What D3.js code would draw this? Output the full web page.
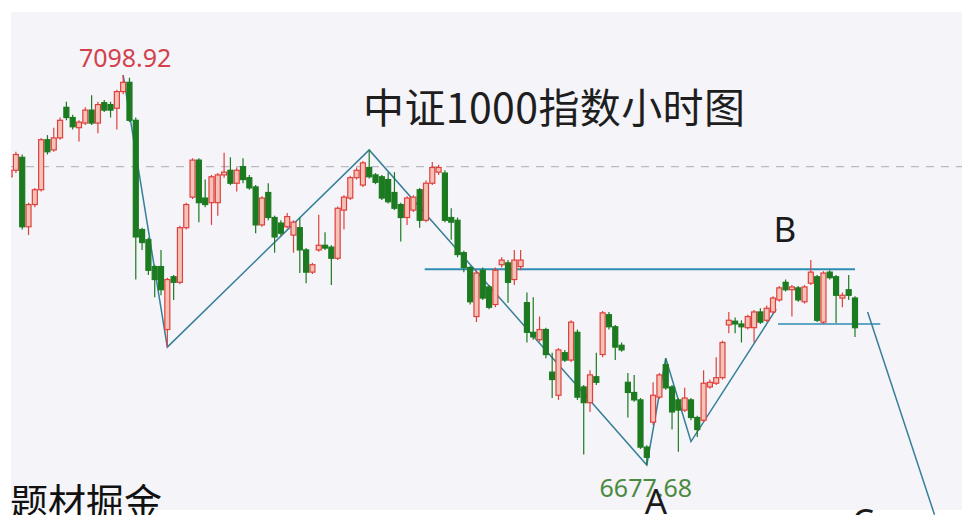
<!DOCTYPE html>
<html>
<head>
<meta charset="utf-8">
<script src="https://cdn.jsdelivr.net/npm/d3@7"></script>
<style>
  body { margin: 0; background: #fff; }
  svg { display: block; }
</style>
</head>
<body>
<svg width="962" height="515"></svg>
<script>
// hourly bars of the CSI 1000 index
const open  = [6989,6996,7010,6935,6959,6975,7029,7018,7031,7064,7053,7042,7047,7061,7047,7069,7067,7063,7081,7091,
               7050,6932,6921,6892,6892,6824,6881,6875,6934,6967,7007,6966,6961,6961,6991,6996,6982,7000,6988,6978,
               6937,6972,6945,6939,6935,6926,6934,6910,6886,6910,6915,6913,6901,6953,6966,6988,6980,6999,6991,6989,
               6986,6972,6959,6945,6953,6975,6942,6982,6994,6993,6945,6942,6907,6891,6838,6888,6870,6851,6894,6896,
               6878,6892,6853,6821,6813,6824,6778,6753,6799,6791,6821,6762,6745,6773,6797,6840,6827,6807,6767,6756,
               6748,6697,6724,6751,6786,6762,6748,6737,6748,6729,6726,6762,6766,6772,6829,6833,6830,6826,6826,6843,
               6834,6843,6856,6875,6867,6869,6854,6874,6881,6832,6886,6881,6858,6867,6858];
const high  = [7002,7016,7013,6961,6977,7031,7034,7042,7053,7070,7056,7050,7064,7077,7070,7072,7070,7083,7098.92,7096,
               7053,6934,6923,6894,6910,6880,6883,6936,6961,7009,7009,6986,6991,6993,7015,7010,6999,7009,6991,6980,
               6968,6982,6947,6942,6950,6942,6945,6912,6896,6948,6929,6915,6957,6969,6990,6999,7006,7018,6993,6991,
               6994,6994,6961,6968,6969,6977,6985,7005,7002,6996,6955,6945,6909,6893,6888,6891,6872,6891,6902,6899,
               6910,6910,6864,6859,6838,6826,6799,6804,6802,6834,6824,6764,6780,6799,6844,6843,6829,6810,6777,6775,
               6750,6699,6767,6777,6793,6764,6750,6761,6750,6731,6780,6770,6794,6812,6843,6837,6834,6840,6845,6847,
               6850,6860,6871,6878,6872,6871,6872,6899,6883,6887,6888,6883,6864,6883,6860];
const low   = [6986,6993,6932,6926,6956,6973,7013,7016,7029,7050,7040,7027,7045,7045,7036,7059,7053,7040,7078,7048,
               6878,6910,6883,6859,6861,6805,6856,6873,6932,6965,6940,6956,6937,6947,6988,6980,6973,6982,6975,6928,
               6935,6942,6907,6925,6933,6907,6885,6874,6884,6908,6910,6872,6899,6932,6964,6986,6978,6987,6981,6964,
               6960,6953,6919,6937,6951,6934,6940,6980,6991,6940,6921,6902,6886,6851,6832,6856,6846,6848,6891,6853,
               6872,6888,6810,6813,6811,6793,6750,6748,6789,6789,6748,6689,6735,6764,6794,6824,6791,6800,6729,6746,
               6695,6677.68,6721,6749,6759,6716,6692,6735,6726,6708,6724,6760,6764,6770,6820,6820,6810,6824,6810,6830,
               6832,6841,6854,6865,6838,6854,6852,6872,6832,6830,6878,6831,6848,6856,6816];
const close = [6996,7013,6935,6959,6975,7029,7016,7031,7050,7053,7043,7048,7061,7047,7067,7061,7061,7081,7091,7050,
               6924,6918,6888,6878,6867,6878,6875,6934,6959,7007,6961,6959,6989,6991,6994,6982,6996,6986,6977,6937,
               6966,6945,6924,6928,6946,6940,6910,6886,6894,6915,6912,6901,6955,6967,6988,6996,7004,6989,6983,6966,
               6962,6955,6945,6966,6967,6942,6982,6999,6999,6942,6940,6905,6891,6854,6885,6858,6848,6888,6899,6875,
               6899,6899,6821,6816,6824,6797,6770,6802,6791,6832,6751,6745,6775,6767,6842,6827,6805,6802,6756,6748,
               6697,6686,6753,6775,6761,6735,6737,6750,6729,6716,6766,6767,6772,6810,6834,6830,6827,6838,6843,6832,
               6847,6858,6869,6867,6870,6856,6870,6886,6834,6885,6880,6861,6861,6861,6826];

// drawn wave lines (bar index, price)
const waveIdx   = [18, 25, 57, 101, 104, 108, 121.5];
const wavePrice = [7098.92, 6805, 7018, 6677.68, 6793, 6703, 6846];
const legCIdx   = [136, 146.6];
const legCPrice = [6843, 6624];

// horizontal levels
const levelLines = [
  { from: 65.8, to: 134, price: 6889 },
  { from: 121.8, to: 138, price: 6830 }
];
const refPrice = 7000;

const bars = d3.range(open.length);

const PLOT = { left: 11, top: 12, right: 962, bottom: 510 };

const x = d3.scaleLinear().domain([0, 134]).range([9.6, 855]);
const y = d3.scaleLinear().domain([6677.68, 7098.92]).range([465, 75]);
const BODY_W = 5;

const svg = d3.select('svg');

svg.append('rect')
  .attr('x', PLOT.left).attr('y', PLOT.top)
  .attr('width', PLOT.right - PLOT.left).attr('height', PLOT.bottom - PLOT.top)
  .attr('fill', '#f4f4f9');

svg.append('clipPath').attr('id', 'plot')
  .append('rect')
  .attr('x', PLOT.left).attr('y', PLOT.top)
  .attr('width', PLOT.right - PLOT.left).attr('height', PLOT.bottom - PLOT.top);

// dashed reference line
svg.append('line')
  .attr('x1', PLOT.left).attr('x2', PLOT.right)
  .attr('y1', y(refPrice)).attr('y2', y(refPrice))
  .attr('stroke', '#b9b9c0').attr('stroke-width', 1.3)
  .attr('stroke-dasharray', '8,7');

// levels
svg.selectAll('.level')
  .data(levelLines)
  .enter()
  .append('line')
  .classed('level', true)
  .attr('x1', d => x(d.from)).attr('x2', d => x(d.to))
  .attr('y1', d => y(d.price)).attr('y2', d => y(d.price))
  .attr('stroke', '#2f8db3')
  .attr('stroke-width', (d, i) => i === 0 ? 2 : 1.6);

// wave lines
const line = d3.line().x(d => x(d[0])).y(d => y(d[1]));
svg.append('path')
  .attr('d', line(waveIdx.map((v, i) => [v, wavePrice[i]])))
  .attr('fill', 'none').attr('stroke', '#367f99').attr('stroke-width', 1.5);
svg.append('path')
  .attr('d', line(legCIdx.map((v, i) => [v, legCPrice[i]])))
  .attr('fill', 'none').attr('stroke', '#367f99').attr('stroke-width', 1.5);

// candles
const chart = svg.append('g').attr('clip-path', 'url(#plot)');
const isUp = i => close[i] >= open[i];
const edge = i => isUp(i) ? '#e0403c' : '#1c7a20';

chart.selectAll('.wick')
  .data(bars)
  .enter()
  .append('line')
  .classed('wick', true)
  .attr('x1', i => x(i)).attr('x2', i => x(i))
  .attr('y1', i => y(high[i])).attr('y2', i => y(low[i]))
  .attr('stroke', edge).attr('stroke-width', 1.2);

chart.selectAll('.body')
  .data(bars)
  .enter()
  .append('rect')
  .classed('body', true)
  .attr('x', i => x(i) - BODY_W / 2)
  .attr('width', BODY_W)
  .attr('y', i => y(Math.max(open[i], close[i])))
  .attr('height', i => Math.max(1.5, Math.abs(y(open[i]) - y(close[i]))))
  .attr('fill', i => isUp(i) ? '#f4c3b8' : '#1c7a20')
  .attr('stroke', edge).attr('stroke-width', 1.2);

// labels
const hiIdx = d3.maxIndex(high);
const loIdx = d3.minIndex(low);

svg.append('text')
  .attr('x', x(hiIdx) + 2).attr('y', y(high[hiIdx]) - 8)
  .attr('text-anchor', 'middle')
  .style('font-family', '"Noto Sans", sans-serif').style('font-size', '25px')
  .attr('fill', '#d2414c')
  .text(high[hiIdx].toFixed(2));

svg.append('text')
  .attr('x', x(loIdx) - 1).attr('y', y(low[loIdx]) + 32)
  .attr('text-anchor', 'middle')
  .style('font-family', '"Noto Sans", sans-serif').style('font-size', '25px')
  .attr('fill', '#4c8a3f')
  .text(low[loIdx].toFixed(2));

svg.append('text')
  .attr('x', 554).attr('y', 123)
  .attr('text-anchor', 'middle')
  .attr('textLength', 382).attr('lengthAdjust', 'spacing')
  .style('font-family', '"Noto Sans CJK SC", sans-serif').style('font-size', '41px')
  .attr('fill', '#1e1e1e')
  .text('中证1000指数小时图');

const letters = [
  { t: 'B', x: 785, y: 242 },
  { t: 'A', x: 656, y: 514 },
  { t: 'C', x: 863, y: 534 }
];
svg.selectAll('.wave-label')
  .data(letters)
  .enter()
  .append('text')
  .classed('wave-label', true)
  .attr('x', d => d.x).attr('y', d => d.y)
  .attr('text-anchor', 'middle')
  .style('font-family', '"Noto Sans", sans-serif').style('font-size', '35px')
  .attr('fill', '#1a1a1a')
  .text(d => d.t);

svg.append('text')
  .attr('x', 10).attr('y', 516)
  .style('font-family', '"Noto Sans CJK SC", sans-serif').style('font-size', '38px')
  .attr('fill', '#111')
  .text('题材掘金');
</script>
</body>
</html>
